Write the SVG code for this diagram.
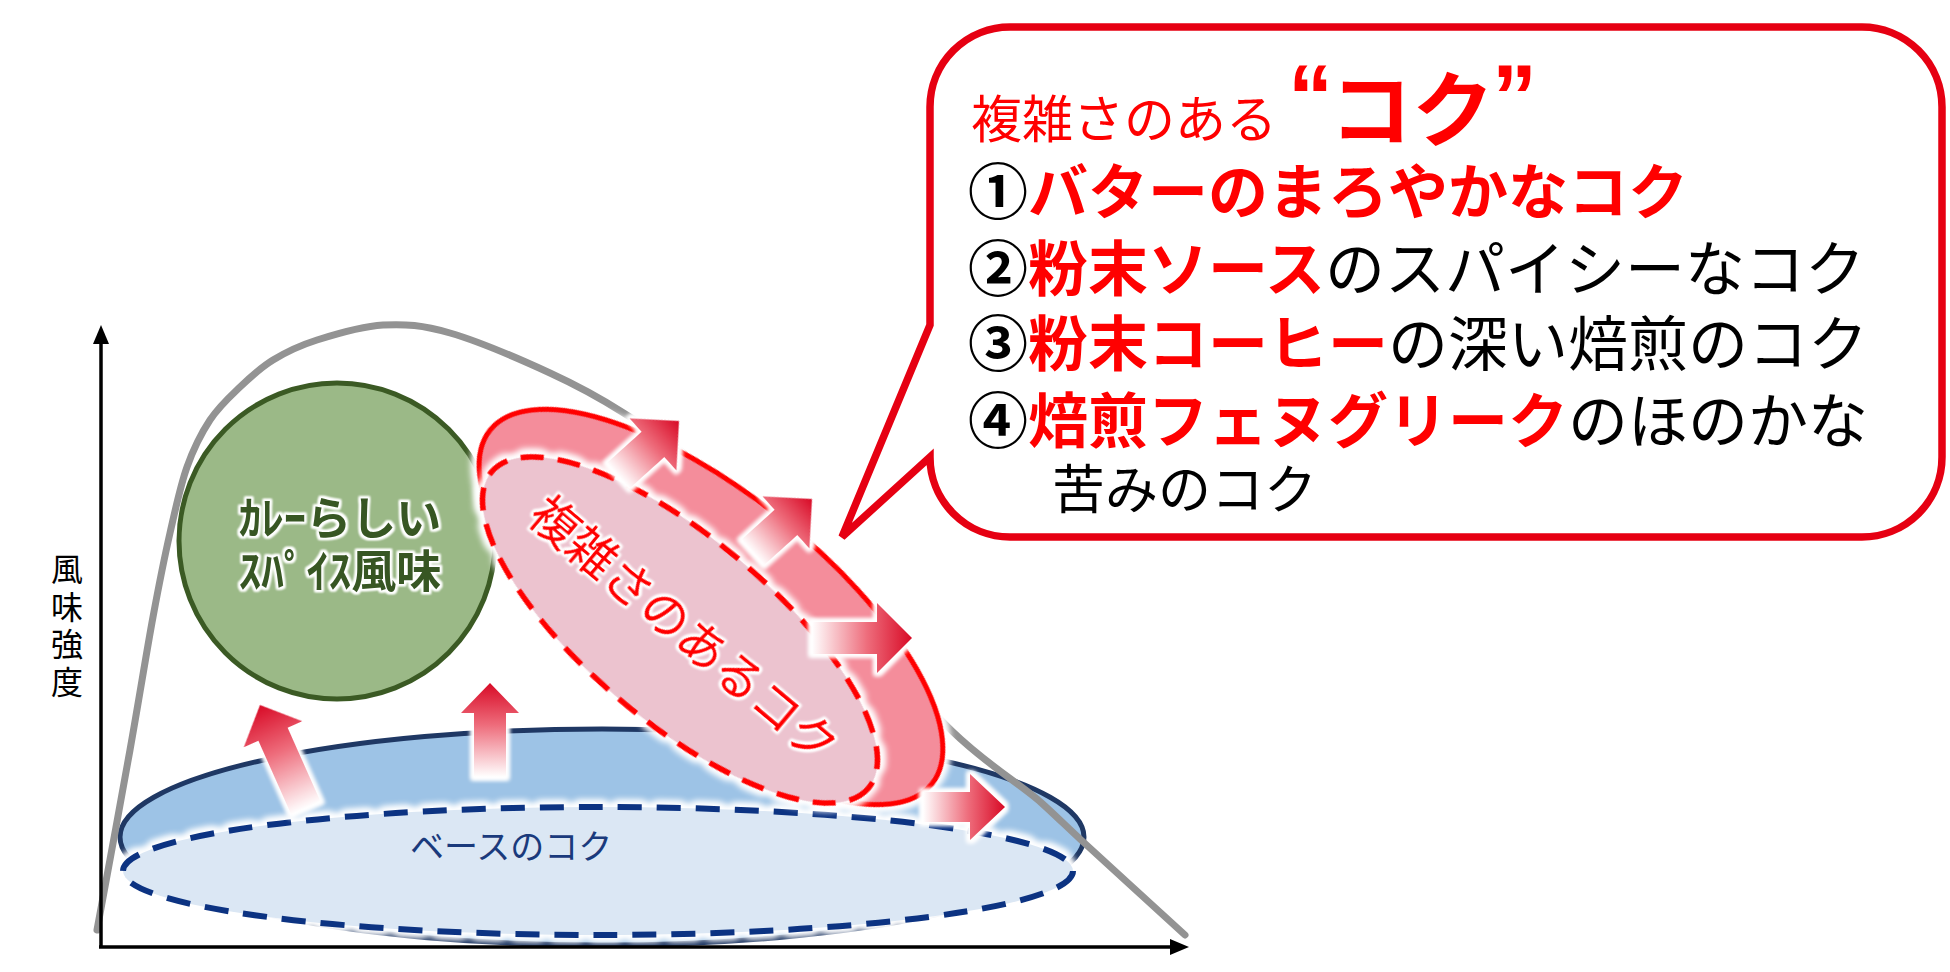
<svg xmlns="http://www.w3.org/2000/svg" width="1950" height="972" viewBox="0 0 1950 972">
<defs>
<style>
text{font-family:"Noto Sans CJK JP","Noto Sans CJK SC","Noto Sans",sans-serif;}
.axis{stroke:#000;stroke-width:3.5;fill:none}
.curve{stroke:#939393;stroke-width:7;fill:none;stroke-linecap:round;stroke-linejoin:round}
.arrow{fill:url(#arrGrad);filter:url(#aglow)}
.red{fill:#ff0000}
.blk{fill:#000}
.b{font-weight:700}
</style>
<linearGradient id="arrGrad" x1="0" y1="0" x2="0" y2="1">
<stop offset="0" stop-color="#d80a26"/>
<stop offset="0.45" stop-color="#ee6d7c"/>
<stop offset="1" stop-color="#ffffff"/>
</linearGradient>
<filter id="glow" x="-10%" y="-20%" width="120%" height="140%" color-interpolation-filters="sRGB">
<feMorphology in="SourceAlpha" operator="dilate" radius="3" result="d"/>
<feGaussianBlur in="d" stdDeviation="3.5" result="b"/>
<feFlood flood-color="#ffffff" result="w"/>
<feComposite in="w" in2="b" operator="in" result="g"/>
<feMerge><feMergeNode in="g"/><feMergeNode in="g"/><feMergeNode in="SourceGraphic"/></feMerge>
</filter>
<filter id="aglow" x="-30%" y="-30%" width="160%" height="160%" color-interpolation-filters="sRGB">
<feMorphology in="SourceAlpha" operator="dilate" radius="2.5" result="d"/>
<feGaussianBlur in="d" stdDeviation="2" result="b"/>
<feFlood flood-color="#ffffff" result="w"/>
<feComposite in="w" in2="b" operator="in" result="g"/>
<feMerge><feMergeNode in="g"/><feMergeNode in="g"/><feMergeNode in="SourceGraphic"/></feMerge>
</filter>
<filter id="tglow" x="-10%" y="-30%" width="120%" height="160%" color-interpolation-filters="sRGB">
<feMorphology in="SourceAlpha" operator="dilate" radius="1.8" result="d"/>
<feGaussianBlur in="d" stdDeviation="1.2" result="b"/>
<feFlood flood-color="#ffffff" result="w"/>
<feComposite in="w" in2="b" operator="in" result="g"/>
<feMerge><feMergeNode in="g"/><feMergeNode in="g"/><feMergeNode in="SourceGraphic"/></feMerge>
</filter>
</defs>
<rect width="1950" height="972" fill="#ffffff"/>

<g id="y-label">
<text x="67" y="553" font-size="32" fill="#000" style="writing-mode:vertical-rl;letter-spacing:5.5px">風味強度</text>
</g>

<g id="node-base">
<ellipse cx="602" cy="837" rx="482" ry="108" fill="#9dc3e6" stroke="#1f3864" stroke-width="5"/>
<ellipse cx="598" cy="871" rx="475" ry="64" fill="#dbe7f4" stroke="#0c3382" stroke-width="6" stroke-dasharray="24 15" filter="url(#glow)"/>
<text x="410" y="859" font-size="34" fill="#1a3a7c">ベースのコク</text>
</g>

<path id="curve" class="curve" d="M97,930 C102.5,900 120.7,802.2 130,750 C139.3,697.8 146.3,653.2 153,617 C159.7,580.8 164.3,558 170,533 C175.7,508 180.3,485.8 187,467 C193.7,448.2 201.2,433.3 210,420 C218.8,406.7 229.5,397 240,387 C250.5,377 260.2,367.8 273,360 C285.8,352.2 298.7,345.8 317,340 C335.3,334.2 360.8,326.2 383,325 C405.2,323.8 422.2,325 450,333 C477.8,341 521.3,359.8 550,373 C578.7,386.2 595.3,395 622,412 C648.7,429 673.7,442 710,475 C746.3,508 799.5,567.2 840,610 C880.5,652.8 920.2,700.5 953,732 C985.8,763.5 1015.8,781.2 1037,799 C1047.6,807.9 1067.7,827.7 1080,839 C1104.7,861.7 1167.5,919 1185,935"/>

<g id="node-spice">
<circle cx="337" cy="541" r="158" fill="#9bb987" stroke="#3b5a24" stroke-width="5"/>
<g font-size="45" font-weight="700" fill="#375623" text-anchor="middle" filter="url(#tglow)">
<text x="340" y="535">ｶﾚｰらしい</text>
<text x="340" y="588">ｽﾊﾟｲｽ風味</text>
</g>
</g>

<g id="node-koku">
<ellipse cx="0" cy="0" rx="283" ry="113" transform="translate(711,607) rotate(38.7)" fill="#f48d9b" stroke="#ff0000" stroke-width="5" filter="url(#glow)"/>
<ellipse cx="0" cy="0" rx="246" ry="92" transform="translate(680,630) rotate(40)" fill="#ecc3cf" stroke="#ff0000" stroke-width="5.5" stroke-dasharray="23 14" filter="url(#glow)"/>
<text transform="translate(684,630) rotate(40)" x="0" y="17" font-size="48" text-anchor="middle" fill="#ff0000" filter="url(#tglow)">複雑さのあるコク</text>
</g>

<g id="connectors">
<path class="arrow" transform="translate(260,705) rotate(-24)" d="M0,0 L32,32 L16,32 L16,113 L-16,113 L-16,32 L-32,32 Z"/>
<path class="arrow" transform="translate(490,683)" d="M0,0 L29,30 L16,30 L16,94 L-16,94 L-16,30 L-29,30 Z"/>
<path class="arrow" transform="translate(679,421) rotate(48)" d="M0,0 L35,35 L17,35 L17,82 L-17,82 L-17,35 L-35,35 Z"/>
<path class="arrow" transform="translate(812,499) rotate(48)" d="M0,0 L35,35 L17,35 L17,80 L-17,80 L-17,35 L-35,35 Z"/>
<path class="arrow" transform="translate(912,638) rotate(90)" d="M0,0 L35,35 L16,35 L16,100 L-16,100 L-16,35 L-35,35 Z"/>
<path class="arrow" transform="translate(1005,807) rotate(90)" d="M0,0 L33,35 L15,35 L15,82 L-15,82 L-15,35 L-33,35 Z"/>
</g>

<g id="axes">
<line class="axis" x1="101" y1="947" x2="101" y2="340"/>
<polygon points="101,325 93,344 109,344" fill="#000"/>
<line class="axis" x1="99" y1="947" x2="1172" y2="947"/>
<polygon points="1189,947 1170,939 1170,955" fill="#000"/>
</g>

<g id="callout">
<path d="M1010,27 H1862 A80,80 0 0 1 1942,107 V457 A80,80 0 0 1 1862,537 H1010 A80,80 0 0 1 930,457 L842,537 L930,325 V107 A80,80 0 0 1 1010,27 Z" fill="#ffffff" stroke="#e60012" stroke-width="7.5" stroke-linejoin="miter"/>
<text x="971" y="138" font-size="51" class="red">複雑さのある</text>
<text x="1288" y="128" font-size="90" class="red b" style="font-family:'Liberation Sans',Arial,sans-serif">“</text>
<text x="1330" y="140" font-size="82" class="red b">コク</text>
<text x="1492" y="128" font-size="90" class="red b" style="font-family:'Liberation Sans',Arial,sans-serif">”</text>
<text x="968" y="214" font-size="60"><tspan class="blk b">①</tspan><tspan class="red b">バターのまろやかなコク</tspan></text>
<text x="968" y="291" font-size="60"><tspan class="blk b">②</tspan><tspan class="red b">粉末ソース</tspan><tspan class="blk">のスパイシーなコク</tspan></text>
<text x="968" y="366" font-size="60"><tspan class="blk b">③</tspan><tspan class="red b">粉末コーヒー</tspan><tspan class="blk">の深い焙煎のコク</tspan></text>
<text x="968" y="443" font-size="60"><tspan class="blk b">④</tspan><tspan class="red b">焙煎フェヌグリーク</tspan><tspan class="blk">のほのかな</tspan></text>
<text x="1052" y="509" font-size="53" class="blk">苦みのコク</text>
</g>
</svg>
